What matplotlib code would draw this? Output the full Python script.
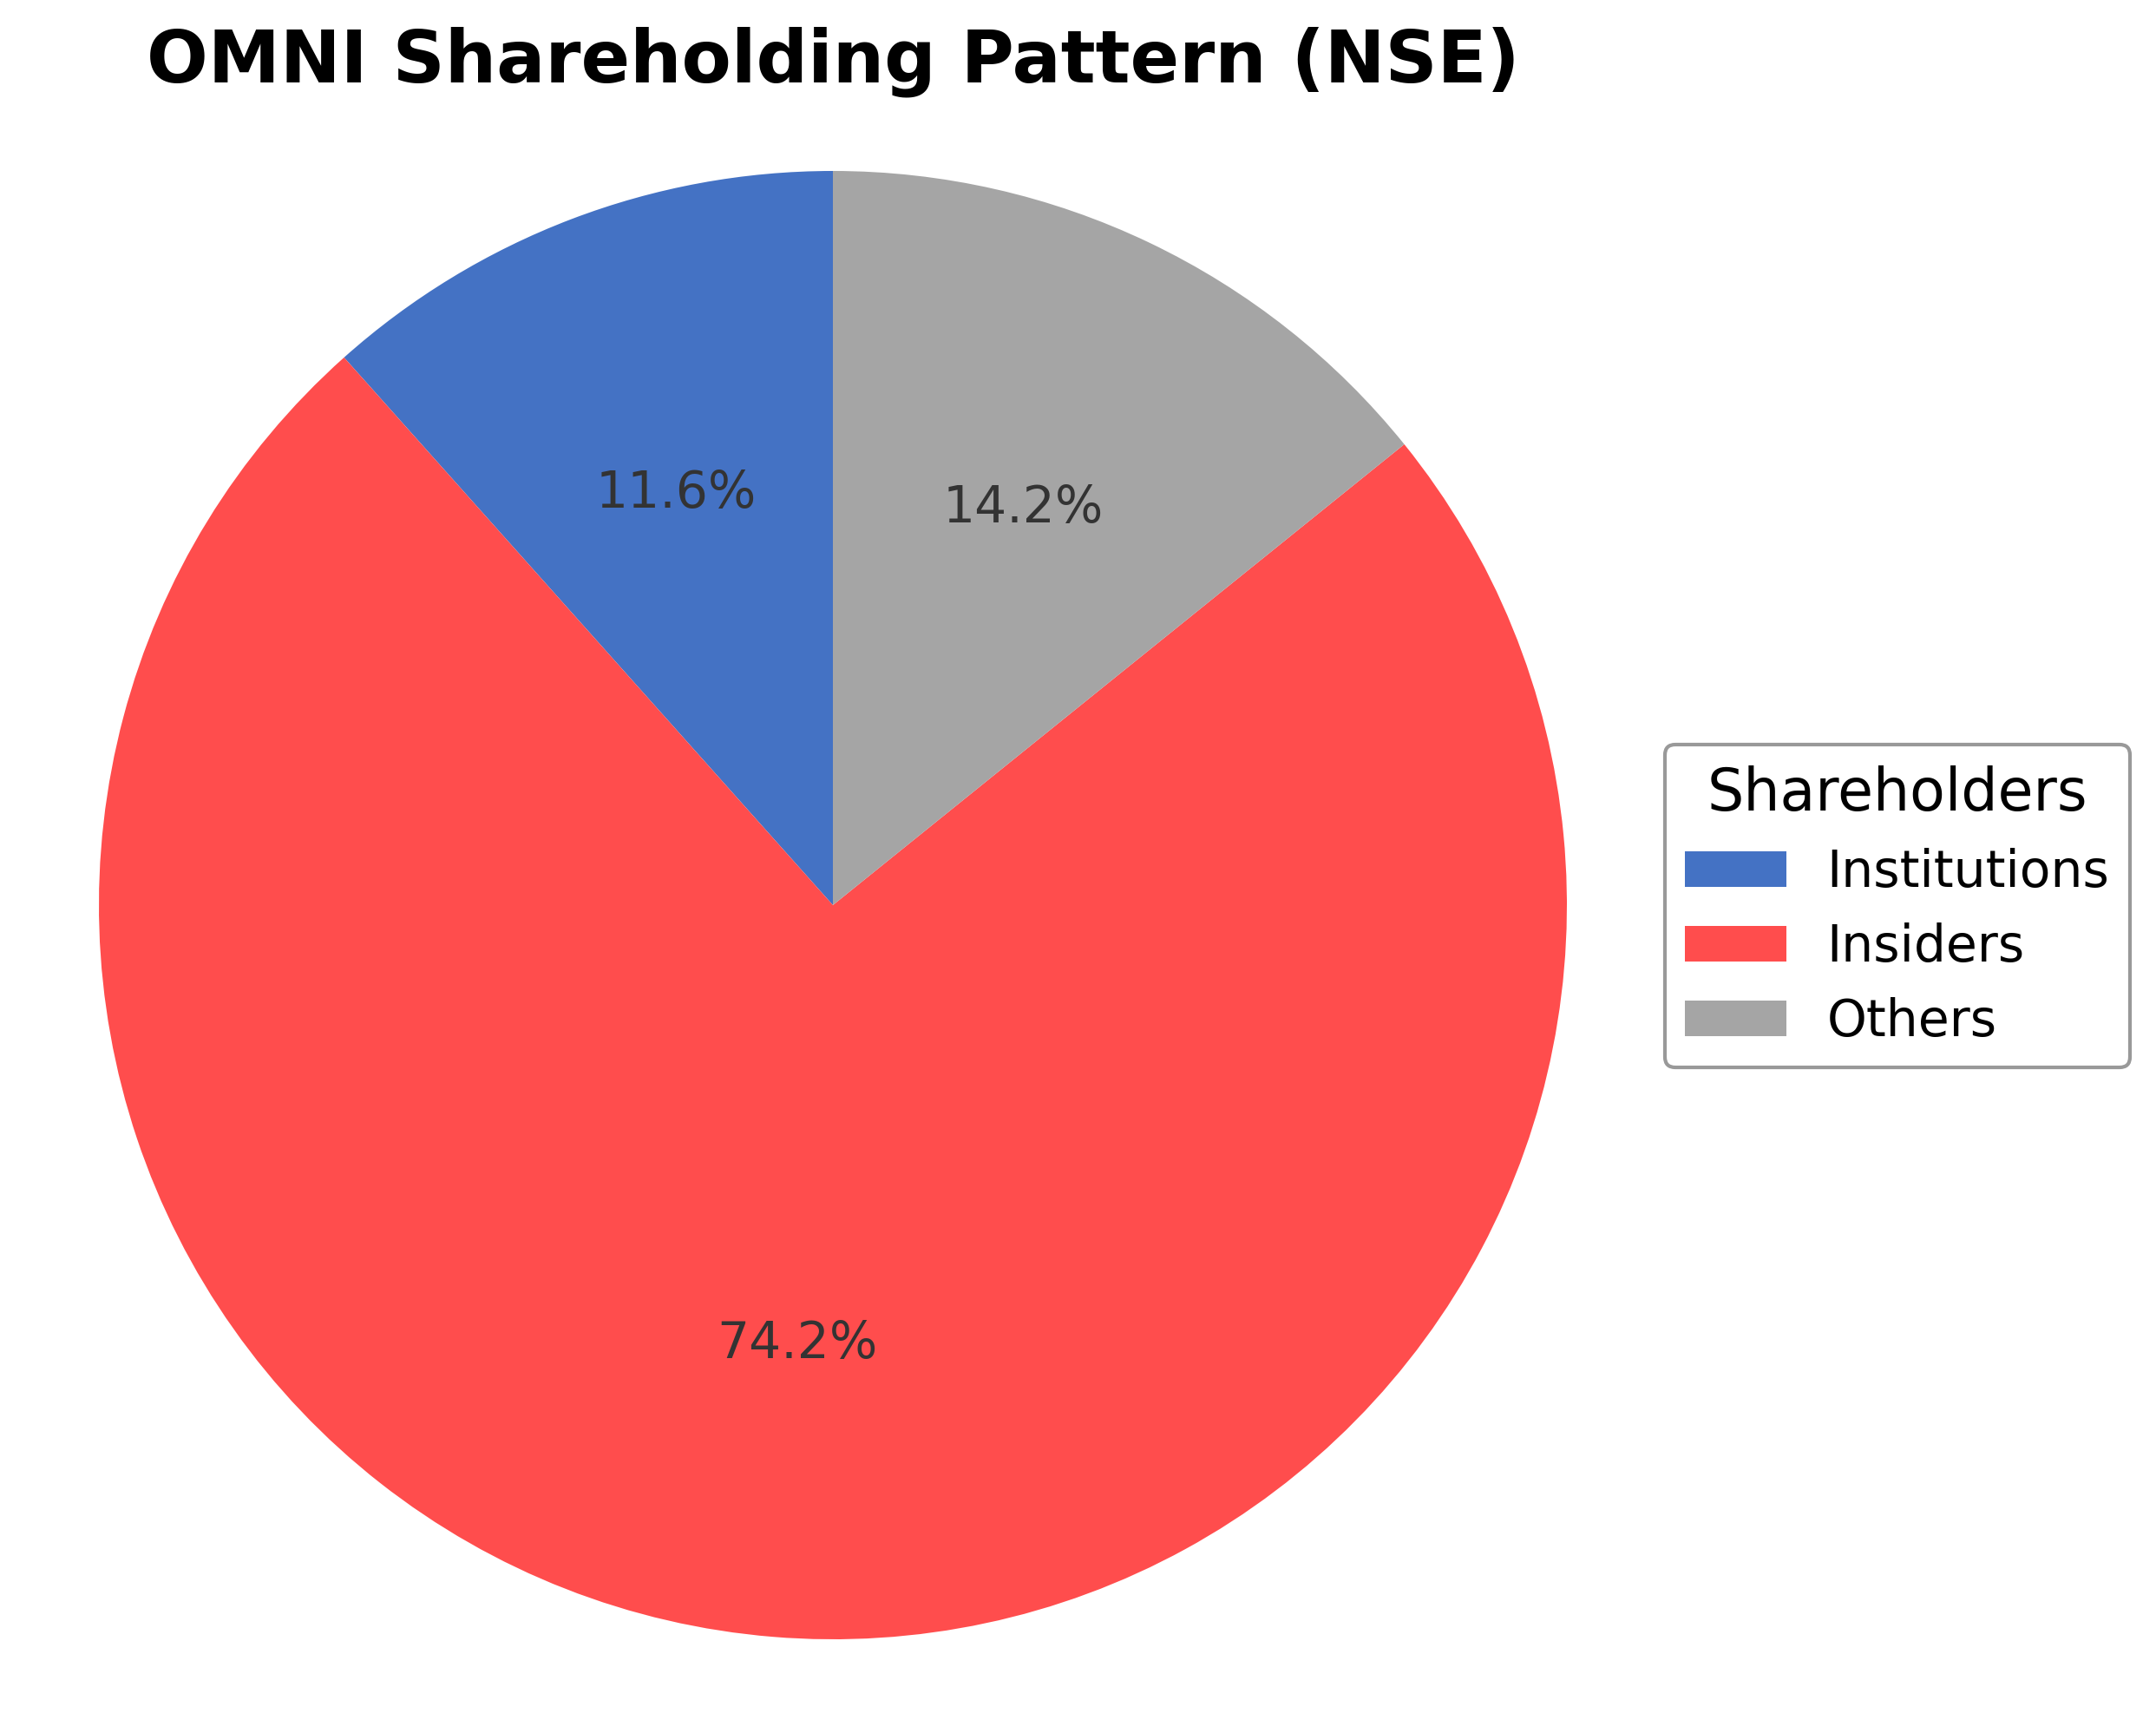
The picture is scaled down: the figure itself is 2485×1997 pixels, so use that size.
import matplotlib
matplotlib.use("Agg")
import matplotlib.pyplot as plt

labels = ["Institutions", "Insiders", "Others"]
values = [11.6, 74.2, 14.2]
colors = ["#4472C4", "#FF4D4D", "#A5A5A5"]
title = "OMNI Shareholding Pattern (NSE)"
legend_title = "Shareholders"

W, H, DPI = 2485, 1997, 300
fig = plt.figure(figsize=(W / DPI, H / DPI), dpi=DPI)

cx, cy, r = 960, 1043, 846
ax = fig.add_axes([(cx - r) / W, (H - cy - r) / H, 2 * r / W, 2 * r / H])

wedges, texts, autotexts = ax.pie(
    values, colors=colors, startangle=90, autopct="%1.1f%%",
    pctdistance=0.6, textprops={"fontsize": 14, "color": "#333333"},
)
ax.set_xlim(-1, 1)
ax.set_ylim(-1, 1)
ax.set_aspect("equal")
ax.axis("off")

ax.set_title(title, fontsize=20, fontweight="bold", pad=24.5)

leg = ax.legend(
    wedges, labels, title=legend_title, loc="center left",
    bbox_to_anchor=(1919 / W, (H - 1044) / H), bbox_transform=fig.transFigure,
    borderaxespad=0, fontsize=14, title_fontsize=16,
    edgecolor="#999999", framealpha=1.0,
)
leg.get_frame().set_linewidth(1.0)

fig.savefig("out.png", dpi=DPI)
